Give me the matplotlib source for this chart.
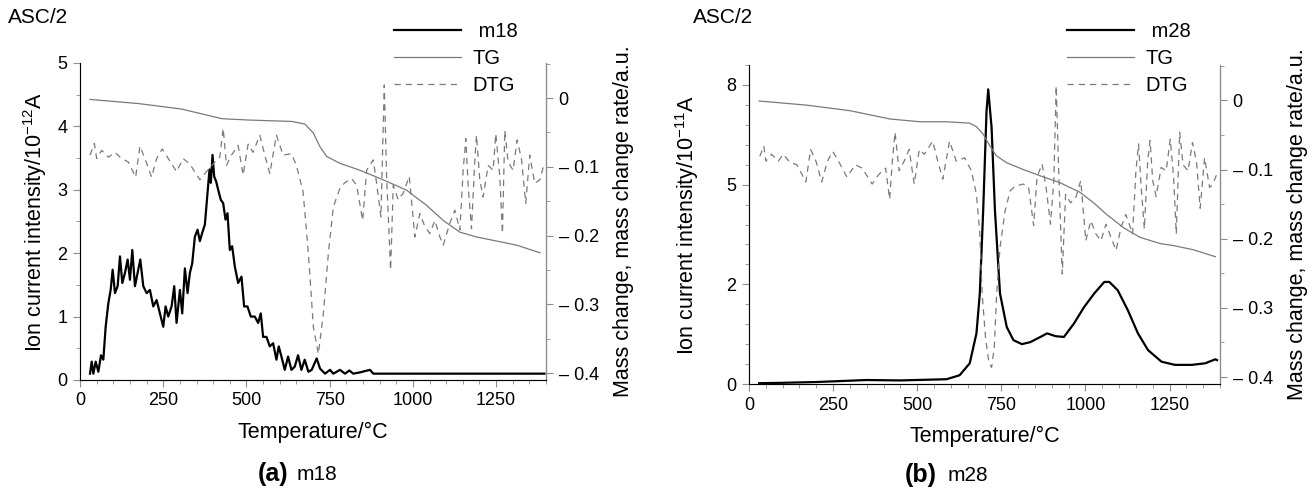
"""TG / DTG / MS curves for ASC/2, m18 and m28."""

import matplotlib

matplotlib.use("Agg")
import matplotlib.pyplot as plt
from matplotlib.ticker import FixedLocator, MultipleLocator

plt.rcParams["font.family"] = ["Liberation Sans", "DejaVu Sans"]
plt.rcParams["mathtext.default"] = "regular"

# ---- (a) m18 ion current, 10^-12 A
m18_T = [30, 35, 40, 47, 55, 63, 70, 77, 85, 92, 98, 105, 113, 120, 127, 135,
         143, 150, 157, 165, 173, 181, 190, 200, 210, 220, 230, 240, 250, 257,
         265, 275, 283, 290, 300, 307, 315, 323, 330, 337, 345, 353, 360, 367,
         375, 383, 389, 393, 398, 403, 409, 415, 423, 430, 437, 443, 450, 457,
         465, 475, 485, 493, 503, 513, 525, 535, 543, 550, 560, 570, 580, 590,
         597, 605, 615, 625, 635, 645, 655, 665, 675, 686, 696, 711, 721, 736,
         751, 761, 781, 796, 809, 821, 841, 871, 881, 896, 1395]
m18_I = [0.10, 0.29, 0.10, 0.29, 0.13, 0.39, 0.32, 0.84, 1.21, 1.42, 1.74,
         1.37, 1.48, 1.95, 1.53, 1.69, 1.90, 1.58, 2.05, 1.48, 1.69, 1.90,
         1.48, 1.37, 1.42, 1.16, 1.26, 1.05, 0.84, 1.16, 1.00, 1.16, 1.48,
         0.90, 1.42, 1.05, 1.76, 1.37, 1.69, 1.84, 2.26, 2.37, 2.19, 2.32,
         2.45, 2.95, 3.32, 3.11, 3.55, 3.21, 3.13, 3.00, 2.84, 2.79, 2.53,
         2.63, 2.05, 2.11, 1.79, 1.53, 1.63, 1.16, 1.16, 1.00, 1.00, 0.90,
         1.05, 0.68, 0.68, 0.53, 0.58, 0.32, 0.53, 0.37, 0.16, 0.37, 0.16,
         0.21, 0.39, 0.16, 0.32, 0.13, 0.16, 0.34, 0.18, 0.10, 0.16, 0.10,
         0.16, 0.10, 0.15, 0.10, 0.12, 0.16, 0.10, 0.10, 0.10]

tg_a_T = [30, 175, 305, 426, 506, 636, 676, 701, 721, 741, 781, 841, 911,
          981, 1041, 1091, 1141, 1191, 1252, 1312, 1382]
tg_a = [-0.002, -0.008, -0.016, -0.030, -0.032, -0.034, -0.038, -0.051,
        -0.071, -0.085, -0.095, -0.105, -0.119, -0.134, -0.156, -0.178,
        -0.195, -0.202, -0.208, -0.214, -0.225]

dtg_a_T = [30, 43, 50, 65, 85, 105, 125, 145, 167, 180, 195, 215, 230, 247,
           265, 290, 310, 330, 360, 380, 405, 420, 430, 440, 455, 475, 490,
           505, 520, 540, 555, 570, 590, 610, 635, 650, 670, 686, 701, 716,
           731, 746, 761, 781, 796, 816, 831, 849, 861, 881, 891, 904, 914,
           921, 933, 941, 956, 971, 989, 1006, 1021, 1036, 1051, 1066, 1081,
           1091, 1111, 1126, 1141, 1151, 1159, 1166, 1176, 1186, 1191, 1201,
           1211, 1226, 1241, 1249, 1261, 1269, 1276, 1286, 1301, 1313, 1326,
           1339, 1351, 1366, 1381, 1393]
dtg_a = [-0.083, -0.066, -0.088, -0.076, -0.086, -0.079, -0.088, -0.093,
         -0.115, -0.070, -0.088, -0.115, -0.088, -0.074, -0.088, -0.107,
         -0.088, -0.096, -0.119, -0.107, -0.093, -0.086, -0.044, -0.098,
         -0.083, -0.069, -0.112, -0.067, -0.079, -0.054, -0.083, -0.110,
         -0.054, -0.083, -0.081, -0.098, -0.136, -0.226, -0.333, -0.372,
         -0.313, -0.226, -0.158, -0.131, -0.123, -0.117, -0.127, -0.178,
         -0.105, -0.090, -0.124, -0.173, 0.019, -0.114, -0.250, -0.127,
         -0.148, -0.138, -0.114, -0.202, -0.168, -0.187, -0.197, -0.178,
         -0.202, -0.214, -0.182, -0.163, -0.192, -0.105, -0.059, -0.127,
         -0.190, -0.090, -0.054, -0.119, -0.144, -0.098, -0.105, -0.052,
         -0.114, -0.197, -0.047, -0.093, -0.105, -0.061, -0.088, -0.153,
         -0.083, -0.124, -0.119, -0.098]

# ---- (b) m28 ion current, 10^-11 A
m28_T = [30, 100, 200, 349, 450, 587, 626, 656, 676, 686, 696, 706, 711,
         721, 731, 746, 766, 786, 811, 836, 866, 886, 911, 936, 966, 996,
         1026, 1056, 1071, 1096, 1126, 1156, 1186, 1226, 1266, 1316, 1356,
         1386, 1391]
m28_I = [0.02, 0.03, 0.05, 0.10, 0.09, 0.12, 0.22, 0.52, 1.27, 2.27, 4.35,
         6.85, 7.39, 6.43, 4.35, 2.27, 1.43, 1.10, 1.00, 1.05, 1.18, 1.27,
         1.20, 1.18, 1.52, 1.93, 2.27, 2.56, 2.56, 2.35, 1.85, 1.27, 0.85,
         0.56, 0.48, 0.48, 0.52, 0.62, 0.60]

tg_b_T = [30, 172, 300, 419, 508, 587, 656, 676, 696, 716, 735, 765, 815,
          865, 924, 984, 1024, 1063, 1113, 1162, 1222, 1262, 1321, 1386]
tg_b = [-0.001, -0.007, -0.015, -0.027, -0.031, -0.031, -0.033, -0.038,
        -0.049, -0.066, -0.080, -0.090, -0.100, -0.109, -0.119, -0.133,
        -0.148, -0.165, -0.184, -0.198, -0.207, -0.210, -0.216, -0.226]

dtg_b_T = [32, 44, 50, 67, 87, 102, 122, 142, 169, 183, 199, 216, 233, 249,
           266, 291, 316, 336, 366, 386, 406, 418, 426, 434, 446, 461, 476,
           491, 506, 521, 546, 561, 576, 596, 616, 641, 661, 676, 686, 693,
           703, 713, 721, 729, 736, 746, 761, 776, 791, 816, 831, 846, 856,
           871, 883, 896, 906, 913, 921, 931, 941, 956, 971, 986, 1001, 1016,
           1031, 1046, 1061, 1076, 1091, 1106, 1120, 1140, 1150, 1158, 1165,
           1175, 1185, 1192, 1200, 1210, 1225, 1240, 1252, 1262, 1270, 1280,
           1290, 1305, 1318, 1330, 1341, 1354, 1369, 1379, 1394]
dtg_b = [-0.081, -0.066, -0.088, -0.078, -0.088, -0.078, -0.090, -0.093,
         -0.118, -0.071, -0.088, -0.118, -0.088, -0.074, -0.088, -0.111,
         -0.093, -0.098, -0.121, -0.107, -0.098, -0.143, -0.088, -0.046,
         -0.102, -0.088, -0.071, -0.121, -0.071, -0.078, -0.059, -0.088,
         -0.114, -0.059, -0.088, -0.083, -0.102, -0.136, -0.193, -0.280,
         -0.343, -0.379, -0.386, -0.357, -0.280, -0.213, -0.160, -0.131,
         -0.124, -0.121, -0.126, -0.181, -0.111, -0.092, -0.126, -0.179,
         -0.116, 0.021, -0.111, -0.251, -0.136, -0.148, -0.141, -0.116,
         -0.203, -0.174, -0.193, -0.203, -0.179, -0.198, -0.217, -0.183,
         -0.165, -0.193, -0.102, -0.063, -0.121, -0.186, -0.088, -0.058,
         -0.116, -0.139, -0.097, -0.102, -0.056, -0.111, -0.193, -0.046,
         -0.093, -0.102, -0.061, -0.088, -0.156, -0.083, -0.126, -0.121,
         -0.102]

mass_ticks = [0.0, -0.1, -0.2, -0.3, -0.4]
mass_labels = ["0", "– 0.1", "– 0.2", "– 0.3", "– 0.4"]

GREY = "#7a7a7a"
SPINE = "#8c8c8c"
TICK_FS = 13
LABEL_FS = 15.5


def style_axes(ax, axr):
    ax.spines["top"].set_visible(False)
    axr.spines["top"].set_visible(False)
    for sp in ("left", "bottom"):
        ax.spines[sp].set_color(SPINE)
        ax.spines[sp].set_linewidth(0.8)
    axr.spines["right"].set_color(SPINE)
    axr.spines["right"].set_linewidth(0.8)
    for a in (ax, axr):
        a.tick_params(which="major", length=5, width=0.8, color=SPINE,
                      labelsize=TICK_FS, pad=4)
        a.tick_params(which="minor", length=3, width=0.6, color=SPINE)
    ax.set_xlim(0, 1400)
    ax.xaxis.set_major_locator(MultipleLocator(250))
    ax.xaxis.set_minor_locator(MultipleLocator(50))
    ax.set_xlabel("Temperature/°C", fontsize=LABEL_FS, labelpad=9)
    axr.set_ylim(-0.41, 0.051)
    axr.yaxis.set_major_locator(FixedLocator(mass_ticks))
    axr.set_yticklabels(mass_labels)
    axr.yaxis.set_minor_locator(MultipleLocator(0.05))
    axr.set_ylabel("Mass change, mass change rate/a.u.", fontsize=LABEL_FS,
                   labelpad=10)


def draw_panel(ax, axr, ms_T, ms_I, ms_name, tg_T, tg, dtg_T, dtg):
    h1, = ax.plot(ms_T, ms_I, color="black", linewidth=1.6, label=" " + ms_name)
    h2, = axr.plot(tg_T, tg, color=GREY, linewidth=0.9, label="TG")
    h3, = axr.plot(dtg_T, dtg, color=GREY, linewidth=0.9, linestyle=(0, (5, 4)),
                   label="DTG")
    style_axes(ax, axr)
    return [h1, h2, h3]


def add_legend(handles, x):
    fig.legend(handles=handles, loc="upper left", bbox_to_anchor=(x, 0.992),
               frameon=False, fontsize=14.5, handlelength=3.3,
               handletextpad=0.6, labelspacing=0.4)


fig = plt.figure(figsize=(13.12, 4.9), dpi=100)

# (a) m18
ax1 = fig.add_axes([0.061, 0.2245, 0.3552, 0.647])
ax1r = ax1.twinx()
hands = draw_panel(ax1, ax1r, m18_T, m18_I, "m18", tg_a_T, tg_a, dtg_a_T, dtg_a)
ax1.set_ylim(0, 5)
ax1.yaxis.set_major_locator(MultipleLocator(1))
ax1.yaxis.set_minor_locator(MultipleLocator(0.5))
ax1.set_ylabel("Ion current intensity/10$^{-12}$A", fontsize=LABEL_FS,
               labelpad=6)
add_legend(hands, 0.2866)
fig.text(0.006, 0.965, "ASC/2", fontsize=15, va="center")
fig.text(0.2195, 0.032, "(a)", fontsize=18, fontweight="bold", va="center",
         ha="right")
fig.text(0.2264, 0.032, "m18", fontsize=15, va="center", ha="left")

# (b) m28
ax2 = fig.add_axes([0.5709, 0.2163, 0.359, 0.651])
ax2r = ax2.twinx()
hands = draw_panel(ax2, ax2r, m28_T, m28_I, "m28", tg_b_T, tg_b, dtg_b_T, dtg_b)
ax2.set_ylim(0, 8)
ax2.yaxis.set_major_locator(FixedLocator([0, 2.5, 5, 7.5]))
ax2.set_yticklabels(["0", "2", "5", "8"])
ax2.yaxis.set_minor_locator(MultipleLocator(0.5))
ax2.set_ylabel("Ion current intensity/10$^{-11}$A", fontsize=LABEL_FS,
               labelpad=18)
add_legend(hands, 0.7995)
fig.text(0.528, 0.965, "ASC/2", fontsize=15, va="center")
fig.text(0.714, 0.03, "(b)", fontsize=18, fontweight="bold", va="center",
         ha="right")
fig.text(0.722, 0.03, "m28", fontsize=15, va="center", ha="left")

fig.savefig("out.png", dpi=100)
